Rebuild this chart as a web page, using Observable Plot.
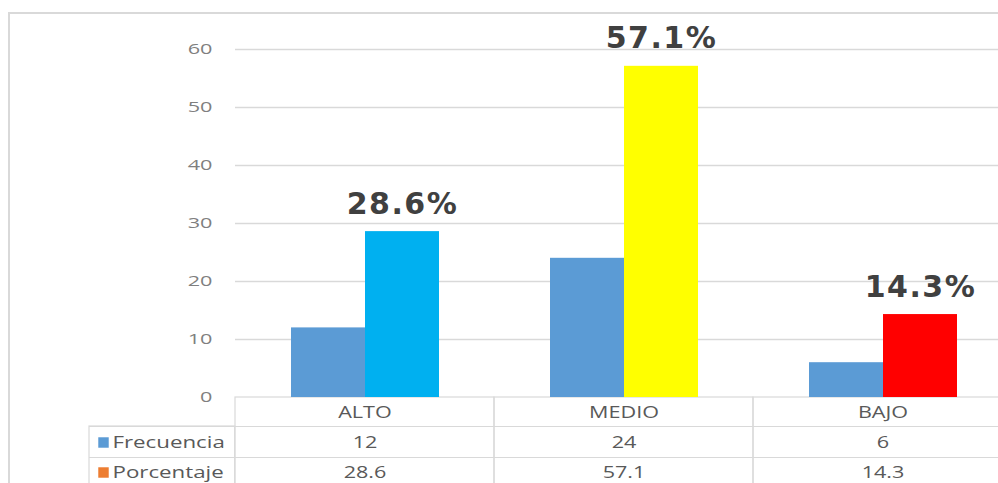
<!DOCTYPE html>
<html>
<head>
<meta charset="utf-8">
<script src="https://cdn.jsdelivr.net/npm/d3@7"></script>
<script src="https://cdn.jsdelivr.net/npm/@observablehq/plot@0.6"></script>
<style>
  html, body { margin: 0; padding: 0; background: #fff; overflow: hidden; width: 998px; height: 483px; }
  #frame { position: absolute; left: 8px; top: 12px; width: 1100px; height: 600px; border: 2px solid #d9d9d9; box-sizing: border-box; }
  #chart { position: absolute; left: 0; top: 0; width: 1012px; }
  #chart svg { overflow: visible; max-width: none !important; }
  #chart svg g[font-weight="bold"] text { letter-spacing: 1.5px; }
  #chart svg g[aria-label^="y-axis"] text { fill: #7f7f7f; }
</style>
</head>
<body>
<div id="frame"></div>
<div id="chart"></div>
<script>
// ---- data ----
const categories = ["ALTO", "MEDIO", "BAJO"];
const series = ["Frecuencia", "Porcentaje"];
const frecuencia = [12, 24, 6];
const porcentaje = [28.6, 57.1, 14.3];
const yTicks = [0, 10, 20, 30, 40, 50, 60];

// ---- palette ----
const frecuenciaColor = "#5b9bd5";
const porcentajeColors = ["#00b0f0", "#ffff00", "#ff0000"];
const legendColors = ["#5b9bd5", "#ed7d31"];

const rows = [];
categories.forEach((c, i) => {
  rows.push({cat: c, series: series[0], value: frecuencia[i], color: frecuenciaColor});
  rows.push({cat: c, series: series[1], value: porcentaje[i], color: porcentajeColors[i]});
});
const pctRows = rows.filter(d => d.series === series[1]);

const gridColor = "#d9d9d9";
const textColor = "#595959";
const tableFont = "Open Sans";
const fs = 16;

const plot = Plot.plot({
  width: 1012,
  height: 483,
  marginTop: 49,
  marginBottom: 86,
  marginLeft: 234,
  marginRight: 0,
  style: {background: "transparent", color: textColor, fontSize: "14px", fontFamily: tableFont},
  fx: {domain: categories, padding: 0, axis: null},
  x: {domain: series, paddingInner: 0, paddingOuter: 0.75, axis: null},
  y: {domain: [0, 60], ticks: yTicks, tickSize: 0, tickPadding: 23, label: null, tickFormat: d => String(d)},
  color: {type: "identity"},
  marks: [
    // gridlines
    Plot.ruleY(yTicks.slice(1), {stroke: gridColor, strokeWidth: 1.5}),
    // table cells per category (vertical borders + top)
    Plot.rect(categories, {fx: d => d, y1: 0, y2: 0, insetBottom: -120, stroke: gridColor, fill: "none", strokeWidth: 1.2}),
    // legend cell in the margin
    Plot.rect([categories[0]], {fx: d => d, y1: 0, y2: 0, insetTop: 29, insetBottom: -120, insetLeft: -146, insetRight: 259.333, stroke: gridColor, fill: "none", strokeWidth: 1.2}),
    // table row lines
    Plot.ruleY([0], {dy: 29, insetLeft: -146, stroke: gridColor, strokeWidth: 1.2}),
    Plot.ruleY([0], {dy: 60, insetLeft: -146, stroke: gridColor, strokeWidth: 1.2}),
    // bars
    Plot.barY(rows, {fx: "cat", x: "series", y: "value", fill: "color"}),
    // value labels
    Plot.text(pctRows, {
      fx: "cat", x: "series", y: "value", text: d => d.value.toFixed(1) + "%",
      dy: -18, lineAnchor: "bottom", fontSize: 30, fontWeight: "bold",
      fontFamily: "DejaVu Sans", fill: "#404040"
    }),
    // table: category header row
    Plot.text(categories, {fx: d => d, text: d => d, frameAnchor: "bottom", dy: 15, lineAnchor: "middle", fill: textColor, fontSize: fs, fontFamily: tableFont}),
    // table: frecuencia row
    Plot.text(frecuencia, {fx: (d, i) => categories[i], text: d => String(d), frameAnchor: "bottom", dy: 45, lineAnchor: "middle", fill: textColor, fontSize: fs, fontFamily: tableFont}),
    // table: porcentaje row
    Plot.text(porcentaje, {fx: (d, i) => categories[i], text: d => d.toFixed(1), frameAnchor: "bottom", dy: 75, lineAnchor: "middle", fill: textColor, fontSize: fs, fontFamily: tableFont}),
    // legend keys
    Plot.dot([series[0]], {fx: () => categories[0], frameAnchor: "bottom-left", dx: -132, dy: 45, symbol: "square", r: 5.9, fill: legendColors[0]}),
    Plot.dot([series[1]], {fx: () => categories[0], frameAnchor: "bottom-left", dx: -132, dy: 75, symbol: "square", r: 5.9, fill: legendColors[1]}),
    // legend labels
    Plot.text([series[0]], {fx: () => categories[0], text: d => d, frameAnchor: "bottom-left", textAnchor: "start", dx: -123, dy: 45, lineAnchor: "middle", fill: textColor, fontSize: fs + 0.5, fontFamily: tableFont}),
    Plot.text([series[1]], {fx: () => categories[0], text: d => d, frameAnchor: "bottom-left", textAnchor: "start", dx: -123, dy: 75, lineAnchor: "middle", fill: textColor, fontSize: fs + 0.5, fontFamily: tableFont})
  ]
});
document.getElementById("chart").appendChild(plot);

// widen the regular (non-bold) text horizontally, like the reference's stretched rendering
d3.select(plot).selectAll("text").each(function () {
  const g = this.closest("g");
  if (g && g.getAttribute("font-weight") === "bold") return;
  const isAxis = !!this.closest('g[aria-label^="y-axis"]');
  const factor = isAxis ? 1.55 : 1.35;
  const len = this.getComputedTextLength();
  if (len > 0) {
    this.setAttribute("textLength", (len * factor).toFixed(1));
    this.setAttribute("lengthAdjust", "spacingAndGlyphs");
  }
});
</script>
</body>
</html>
